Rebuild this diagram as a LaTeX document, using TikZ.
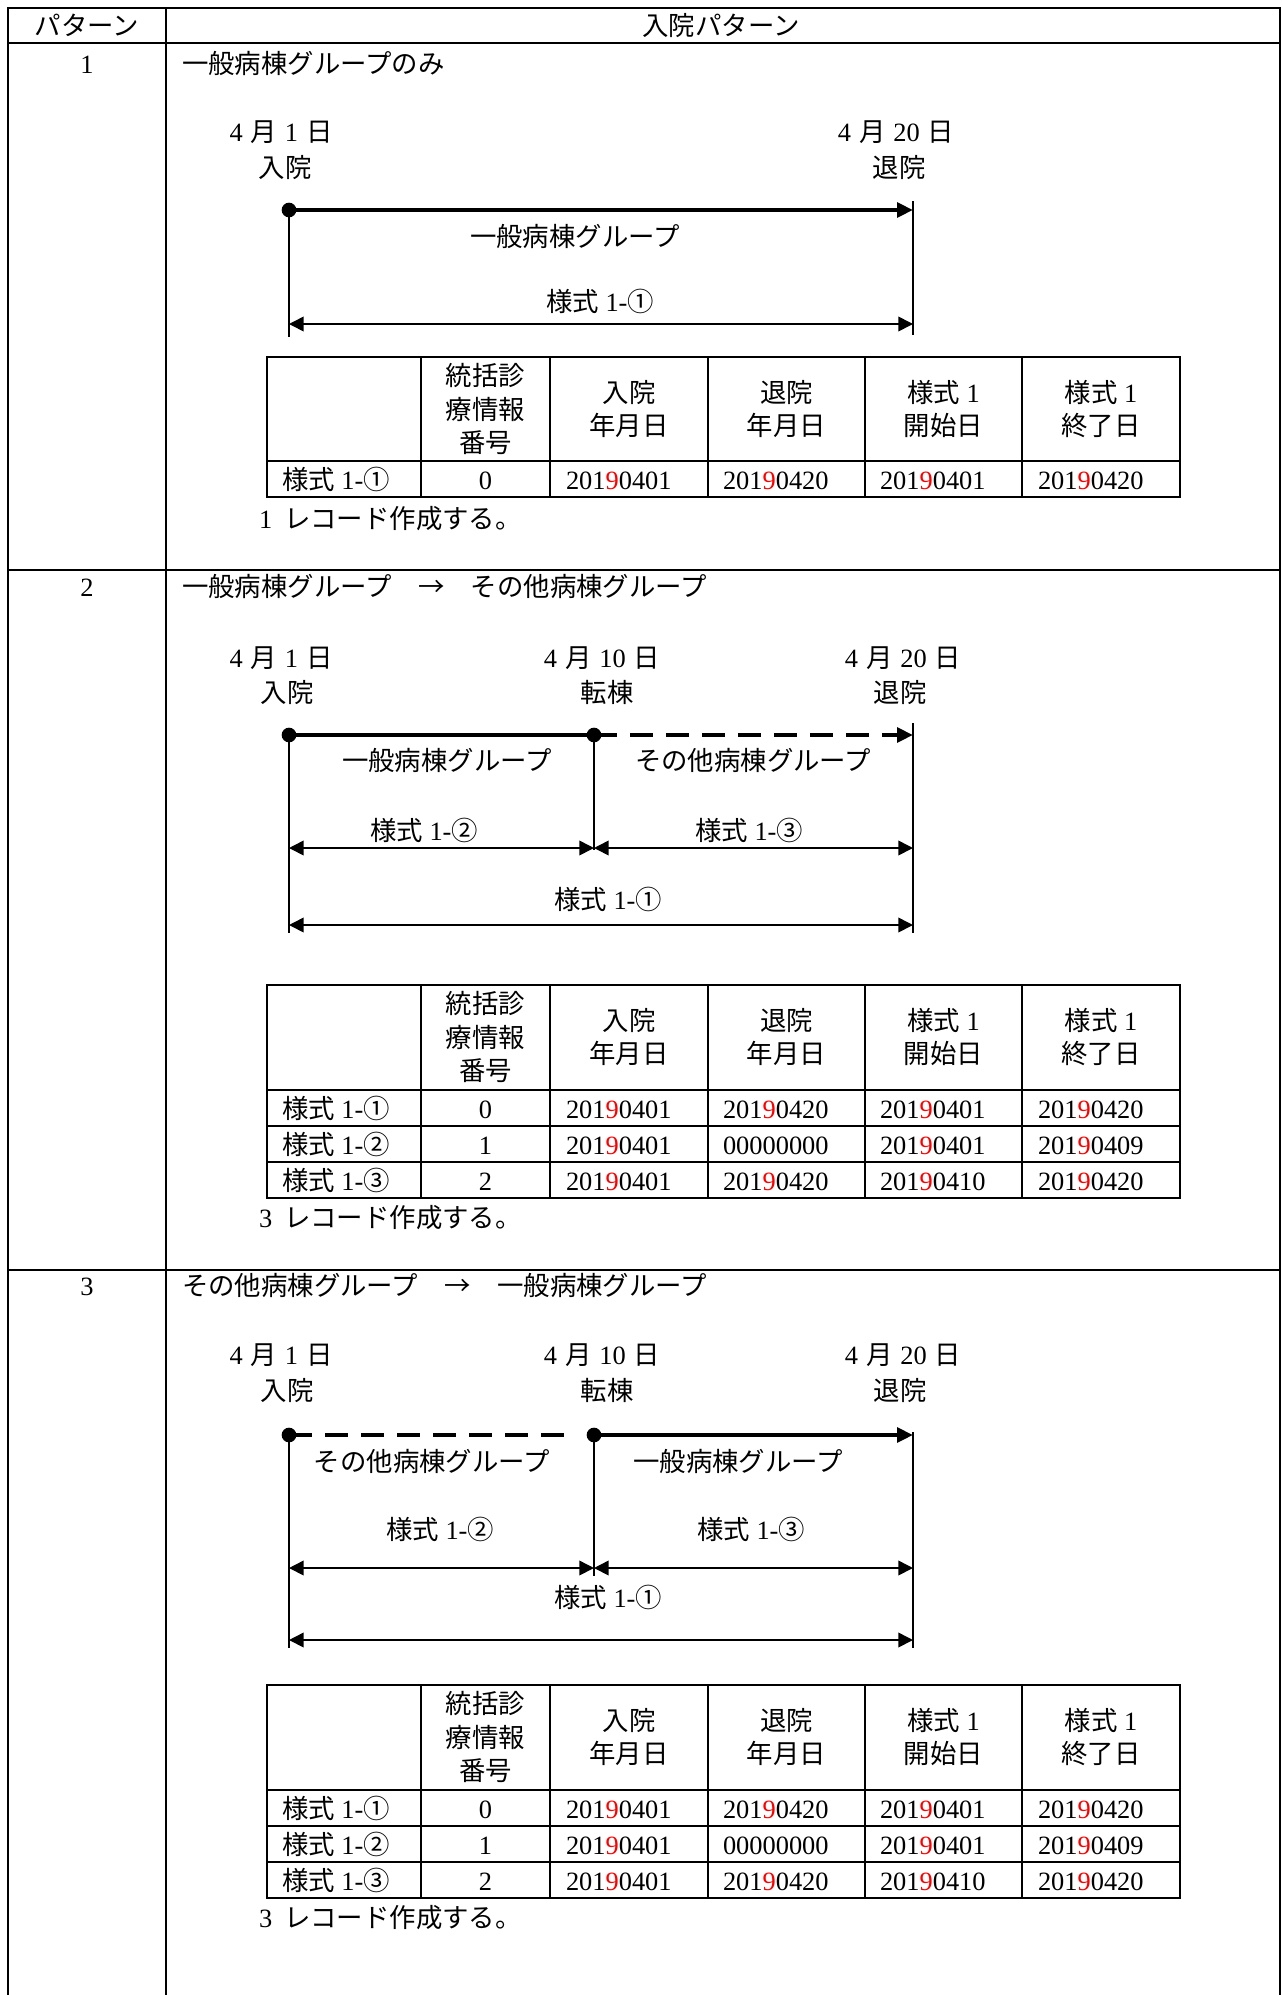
\documentclass[tikz,border=0pt]{standalone}
\usepackage{fontspec}
\setmainfont{Liberation Serif}
\newfontfamily\jpf{Noto Sans CJK JP}
\usetikzlibrary{arrows.meta}

\newcommand\nn{\textcolor{red}{9}}
\newcommand\dt[1]{201\nn0#1}
\newcommand\ys[1]{{\jpf 様式}\hspace{0.25em}1-{\jpf #1}}
\newcommand\md[1]{4\hspace{0.3em}{\jpf 月}\hspace{0.3em}#1\hspace{0.3em}{\jpf 日}}

\newcommand\tgrid[2]{% #1 top, #2 bottom
  \draw[tline] (267,#1) rectangle (1180,#2);
  \foreach \xx in {421,550,708,865,1022} \draw[tline] (\xx,#1) -- (\xx,#2);
}
\newcommand\thead[2]{% #1 center y, #2 prefix
  \node[hcell] (#2h2) at (485.5,#1) {統括診\\療情報\\番号};
  \node[hcell] (#2h3) at (629,#1) {入院\\年月日};
  \node[hcell] (#2h4) at (786.5,#1) {退院\\年月日};
  \node[hcell] (#2h5) at (943.5,#1) {様式\hspace{0.25em}{\rmfamily 1}\\開始日};
  \node[hcell] (#2h6) at (1101,#1) {様式\hspace{0.25em}{\rmfamily 1}\\終了日};
}
\newcommand\drow[8]{% #1 y, #2 prefix, #3 circ, #4 num, #5-#8 dates
  \node[txt,anchor=west] (#2a) at (282,#1) {\ys{#3}};
  \node[txt] (#2b) at (485.5,#1) {#4};
  \node[txt,anchor=west] (#2c) at (566,#1) {#5};
  \node[txt,anchor=west] (#2d) at (723,#1) {#6};
  \node[txt,anchor=west] (#2e) at (880,#1) {#7};
  \node[txt,anchor=west] (#2f) at (1038,#1) {#8};
}

\begin{document}
\begin{tikzpicture}[x=0.75pt,y=-0.75pt,
  every node/.style={inner sep=0pt, outer sep=0pt, font=\fontsize{19.8}{25.3}\selectfont},
  txt/.style={text height=17.4pt, text depth=2.4pt},
  hcell/.style={align=center, font=\jpf\fontsize{19.8}{25.3}\selectfont},
  frame/.style={line width=1.4pt},
  tline/.style={line width=1.3pt},
  vline/.style={line width=1.2pt},
  dim/.style={line width=1.2pt, {Triangle[length=11pt,width=11pt]}-{Triangle[length=11pt,width=11pt]}},
  thk/.style={line width=3.5pt},
  thkarr/.style={line width=3.5pt, -{Triangle[length=12pt,width=11pt]}},
  dsh/.style={line width=3.5pt, dash pattern=on 17pt off 10pt},
  dot/.style={circle, fill=black, minimum size=11pt, inner sep=0pt}
]
\useasboundingbox (0,0) rectangle (1282,1995);

% ---------- outer frame ----------
\draw[frame] (8,1995) -- (8,8) -- (1280,8) -- (1280,1995);
\draw[frame] (166,8) -- (166,1995);
\draw[frame] (8,43) -- (1280,43);
\draw[frame] (8,570) -- (1280,570);
\draw[frame] (8,1270) -- (1280,1270);

\node[txt] (hA) at (87,25) {{\jpf パターン}};
\node[txt] (hB) at (721,25) {{\jpf 入院パターン}};

% ================= Row 1 =================
\node[txt] (n1) at (87,63) {1};
\node[txt,anchor=west] (ti1) at (182,63) {{\jpf 一般病棟グループのみ}};

\node[txt] (r1a) at (281,131) {\md{1}};
\node[txt] (r1b) at (285,167) {{\jpf 入院}};
\node[txt] (r1c) at (896,131) {\md{20}};
\node[txt] (r1d) at (899,167) {{\jpf 退院}};

\coordinate (L1) at (289,210);
\coordinate (R1) at (913,210);
\coordinate (L1b) at (289,337);
\coordinate (R1t) at (913,201);
\coordinate (R1b) at (913,335);
\coordinate (A1l) at (289,324);
\coordinate (A1r) at (913,324);
\draw[vline] (L1) -- (L1b);
\draw[vline] (R1t) -- (R1b);
\draw[thkarr] (L1) -- (R1);
\draw[dim] (A1l) -- (A1r);
\node[dot] (D1) at (L1) {};
\node[txt] (g1) at (575,236) {{\jpf 一般病棟グループ}};
\node[txt] (s1) at (600,301) {\ys{①}};

\tgrid{357}{497}
\draw[tline] (267,461) -- (1180,461);
\thead{409}{T1}
\drow{479}{T1r1}{①}{0}{\dt{401}}{\dt{420}}{\dt{401}}{\dt{420}}
\node[txt,anchor=west] (rc1) at (259,518) {1\hspace{0.45em}{\jpf レコード作成する。}};

% ================= Row 2 =================
\node[txt] (n2) at (87,586) {2};
\node[txt,anchor=west] (ti2) at (182,586) {{\jpf 一般病棟グループ　→　その他病棟グループ}};

\node[txt] (r2a) at (281,657) {\md{1}};
\node[txt] (r2b) at (287,692) {{\jpf 入院}};
\node[txt] (r2c) at (602,657) {\md{10}};
\node[txt] (r2d) at (607,692) {{\jpf 転棟}};
\node[txt] (r2e) at (903,657) {\md{20}};
\node[txt] (r2f) at (900,692) {{\jpf 退院}};

\coordinate (L2) at (289,735);
\coordinate (M2) at (594,735);
\coordinate (R2) at (913,735);
\coordinate (L2b) at (289,933);
\coordinate (M2b) at (594,850);
\coordinate (R2t) at (913,723);
\coordinate (R2b) at (913,933);
\coordinate (B2l) at (289,848);
\coordinate (B2m) at (594,848);
\coordinate (B2r) at (913,848);
\coordinate (C2l) at (289,925);
\coordinate (C2r) at (913,925);
\draw[vline] (L2) -- (L2b);
\draw[vline] (M2) -- (M2b);
\draw[vline] (R2t) -- (R2b);
\draw[thk] (L2) -- (M2);
\draw[dsh, -{Triangle[length=12pt,width=11pt]}] (M2) -- (R2);
\draw[dim] (B2l) -- (B2m);
\draw[dim] (B2m) -- (B2r);
\draw[dim] (C2l) -- (C2r);
\node[dot] (D2a) at (L2) {};
\node[dot] (D2b) at (M2) {};
\node[txt] (g2a) at (447,760) {{\jpf 一般病棟グループ}};
\node[txt] (g2b) at (753,760) {{\jpf その他病棟グループ}};
\node[txt] (s2b) at (424,830) {\ys{②}};
\node[txt] (s2c) at (749,830) {\ys{③}};
\node[txt] (s2a) at (608,899) {\ys{①}};

\tgrid{985}{1198}
\foreach \yy in {1090,1126,1162} \draw[tline] (267,\yy) -- (1180,\yy);
\thead{1037}{T2}
\drow{1108}{T2r1}{①}{0}{\dt{401}}{\dt{420}}{\dt{401}}{\dt{420}}
\drow{1144}{T2r2}{②}{1}{\dt{401}}{00000000}{\dt{401}}{\dt{409}}
\drow{1180}{T2r3}{③}{2}{\dt{401}}{\dt{420}}{\dt{410}}{\dt{420}}
\node[txt,anchor=west] (rc2) at (259,1217) {3\hspace{0.45em}{\jpf レコード作成する。}};

% ================= Row 3 =================
\node[txt] (n3) at (87,1285) {3};
\node[txt,anchor=west] (ti3) at (182,1285) {{\jpf その他病棟グループ　→　一般病棟グループ}};

\node[txt] (r3a) at (281,1354) {\md{1}};
\node[txt] (r3b) at (287,1390) {{\jpf 入院}};
\node[txt] (r3c) at (602,1354) {\md{10}};
\node[txt] (r3d) at (607,1390) {{\jpf 転棟}};
\node[txt] (r3e) at (903,1354) {\md{20}};
\node[txt] (r3f) at (900,1390) {{\jpf 退院}};

\coordinate (L3) at (289,1435);
\coordinate (M3) at (594,1435);
\coordinate (M3e) at (572,1435);
\coordinate (R3) at (913,1435);
\coordinate (L3b) at (289,1648);
\coordinate (M3b) at (594,1576);
\coordinate (R3t) at (913,1432);
\coordinate (R3b) at (913,1648);
\coordinate (B3l) at (289,1568);
\coordinate (B3m) at (594,1568);
\coordinate (B3r) at (913,1568);
\coordinate (C3l) at (289,1640);
\coordinate (C3r) at (913,1640);
\draw[vline] (L3) -- (L3b);
\draw[vline] (M3) -- (M3b);
\draw[vline] (R3t) -- (R3b);
\draw[dsh] (L3) -- (M3e);
\draw[thkarr] (M3) -- (R3);
\draw[dim] (B3l) -- (B3m);
\draw[dim] (B3m) -- (B3r);
\draw[dim] (C3l) -- (C3r);
\node[dot] (D3a) at (L3) {};
\node[dot] (D3b) at (M3) {};
\node[txt] (g3a) at (432,1461) {{\jpf その他病棟グループ}};
\node[txt] (g3b) at (738,1461) {{\jpf 一般病棟グループ}};
\node[txt] (s3b) at (440,1529) {\ys{②}};
\node[txt] (s3c) at (751,1529) {\ys{③}};
\node[txt] (s3a) at (608,1597) {\ys{①}};

\tgrid{1685}{1898}
\foreach \yy in {1790,1826,1862} \draw[tline] (267,\yy) -- (1180,\yy);
\thead{1737}{T3}
\drow{1808}{T3r1}{①}{0}{\dt{401}}{\dt{420}}{\dt{401}}{\dt{420}}
\drow{1844}{T3r2}{②}{1}{\dt{401}}{00000000}{\dt{401}}{\dt{409}}
\drow{1880}{T3r3}{③}{2}{\dt{401}}{\dt{420}}{\dt{410}}{\dt{420}}
\node[txt,anchor=west] (rc3) at (259,1917) {3\hspace{0.45em}{\jpf レコード作成する。}};

\end{tikzpicture}
\end{document}
